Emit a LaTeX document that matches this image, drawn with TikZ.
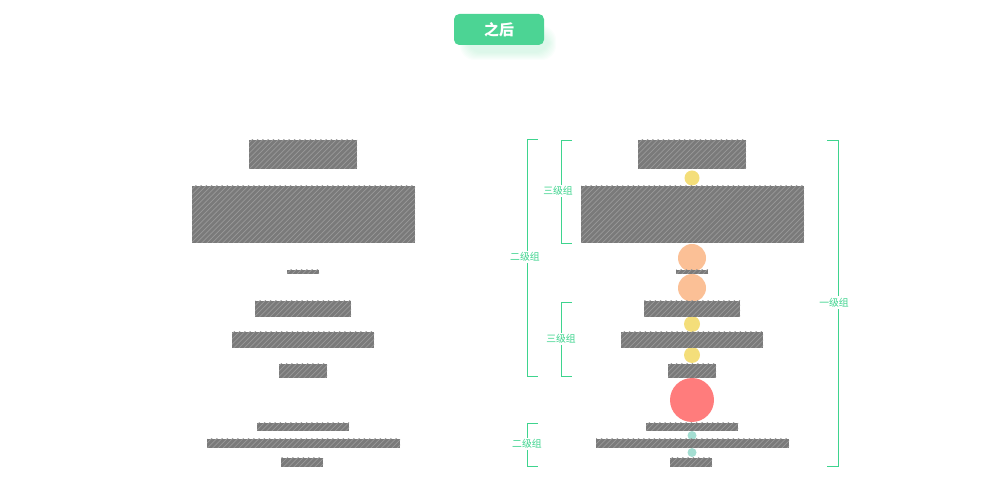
\documentclass[tikz,border=0pt]{standalone}
\usepackage{fontspec}
\newfontfamily\cjk{Noto Sans CJK SC}
\usepackage{tikz}
\usetikzlibrary{patterns}
\definecolor{grp}{RGB}{62,212,142}
\definecolor{btn}{RGB}{76,212,148}
\definecolor{glow}{RGB}{120,225,170}
\definecolor{bar}{RGB}{122,122,122}
\definecolor{dotY}{RGB}{244,222,122}
\definecolor{dotO}{RGB}{251,192,150}
\definecolor{dotR}{RGB}{255,124,124}
\definecolor{dotT}{RGB}{164,222,210}
\tikzset{
	brace/.style={draw=grp, line width=0.5pt},
	grplabel/.style={fill=white, inner sep=1pt, text=grp, font=\cjk\fontsize{5.6}{6}\selectfont},
}

\begin{document}
\begin{tikzpicture}[x=0.02cm, y=-0.02cm]
				\useasboundingbox (0,0) rectangle (1000,492);
				\foreach \g in {0,1,...,7} {
					\fill[glow, opacity=0.035, rounded corners=8] (460+\g,26+\g) rectangle (556-\g,60-\g);
				}
				\fill[btn, rounded corners=3] (454,14) rectangle (544,45);
				\node[text=white, font=\cjk\bfseries\fontsize{8.5}{9}\selectfont] (after) at (499,29.5) {之后};
				\fill[dotY] (692,178) circle (7.5);
				\fill[dotO] (692,258) circle (14);
				\fill[dotO] (692,288) circle (14);
				\fill[dotY] (692,324) circle (8);
				\fill[dotY] (692,355) circle (8);
				\fill[dotR] (692,400) circle (22);
				\fill[dotT] (692,435.5) circle (4.5);
				\fill[dotT] (692,452.5) circle (4.5);
				\foreach \dx in {0,389} {
					\foreach \xa/\ya/\xb/\yb in {249/140/357/169, 192/186/415/243, 287/270/319/274, 255/301/351/317, 232/332/374/348, 279/364/327/378, 257/423/349/431, 207/439/400/448, 281/458/323/467} {
						\draw[draw=none, fill=bar] (\xa+\dx,\ya) rectangle (\xb+\dx,\yb);
						\draw[draw=none, pattern=north east lines, pattern color=black!40] (\xa+\dx,\ya) rectangle (\xb+\dx,\yb);
					}
				}
				\draw[brace] (538,139) -- (527,139) -- (527,376) -- (538,376);
				\draw[brace] (572,140) -- (561,140) -- (561,243) -- (572,243);
				\draw[brace] (572,302) -- (561,302) -- (561,376) -- (572,376);
				\draw[brace] (538,423) -- (527,423) -- (527,466) -- (538,466);
				\draw[brace] (827,140) -- (838,140) -- (838,466) -- (827,466);
				\node[grplabel] (g2a) at (525,257) {二级组};
				\node[grplabel] (g3a) at (558,191) {三级组};
				\node[grplabel] (g3b) at (561,339) {三级组};
				\node[grplabel] (g2b) at (527,444) {二级组};
				\node[grplabel] (g1) at (834,302.5) {一级组};
			\end{tikzpicture}
\end{document}
